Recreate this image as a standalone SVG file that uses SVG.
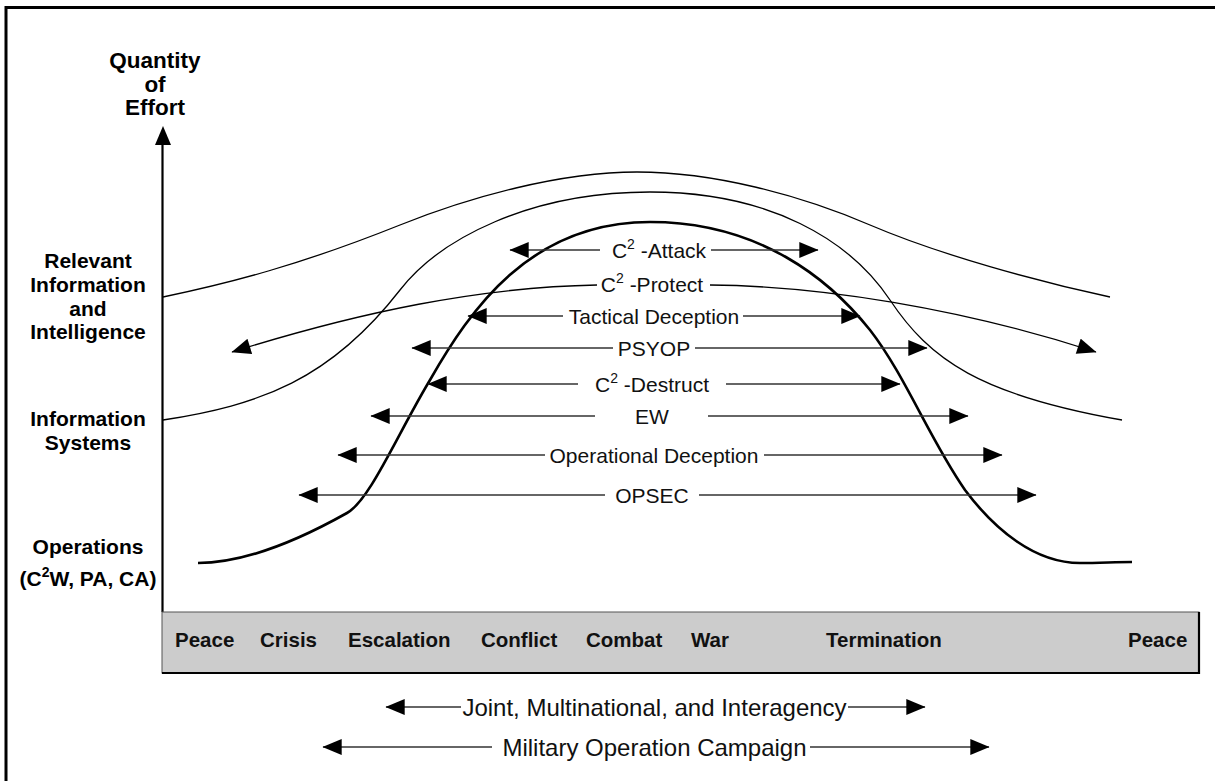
<svg xmlns="http://www.w3.org/2000/svg" width="1215" height="781" viewBox="0 0 1215 781">
<defs>
<marker id="ah" markerUnits="userSpaceOnUse" markerWidth="20" markerHeight="16" viewBox="0 0 18 15" refX="17.5" refY="7.5" orient="auto-start-reverse">
<path d="M0,0 L18,7.5 L0,15 Z" fill="#000"/>
</marker>
<style>
.lbl{font-family:"Liberation Sans",Arial,sans-serif;font-size:21px;font-weight:bold;fill:#000;text-anchor:middle}
.ax{font-size:22.5px}
.bar{font-family:"Liberation Sans",Arial,sans-serif;font-size:20.5px;font-weight:bold;fill:#111}
.arr{font-family:"Liberation Sans",Arial,sans-serif;font-size:21px;fill:#111;text-anchor:middle}
.big{font-family:"Liberation Sans",Arial,sans-serif;font-size:24px;fill:#111;text-anchor:middle}
.thin{fill:none;stroke:#000;stroke-width:1.3}
.bold{fill:none;stroke:#000;stroke-width:2.6}
.al{stroke:#333;stroke-width:1.7;fill:none}
</style>
</defs>
<rect width="1215" height="781" fill="#fff"/>
<rect id="frame" x="6" y="7.5" width="1300" height="900" fill="none" stroke="#000" stroke-width="3"/>

<g id="axis">
<line x1="162.5" y1="140" x2="162.5" y2="612" stroke="#000" stroke-width="2.2"/>
<path d="M163,126 L171,145 L155,145 Z" fill="#000"/>
<text class="lbl ax" x="155" y="68">Quantity</text>
<text class="lbl ax" x="155" y="91.5">of</text>
<text class="lbl ax" x="155" y="115">Effort</text>
</g>

<g id="label-relevant">
<text class="lbl" x="88" y="268">Relevant</text>
<text class="lbl" x="88" y="292">Information</text>
<text class="lbl" x="88" y="315.5">and</text>
<text class="lbl" x="88" y="339">Intelligence</text>
</g>
<g id="label-infosys">
<text class="lbl" x="88" y="426">Information</text>
<text class="lbl" x="88" y="450">Systems</text>
</g>
<g id="label-operations">
<text class="lbl" x="88" y="554">Operations</text>
<text class="lbl" x="88" y="586">(C<tspan font-size="14" dy="-9">2</tspan><tspan dy="9">W, PA, CA)</tspan></text>
</g>

<g id="timeline">
<rect x="162" y="612" width="1037" height="61" fill="#cccccc" stroke="#555" stroke-width="1"/>
<polyline points="162,673 1199,673 1199,612" fill="none" stroke="#000" stroke-width="2.2"/>
<text class="bar" x="175" y="647">Peace</text>
<text class="bar" x="260" y="647">Crisis</text>
<text class="bar" x="348" y="647">Escalation</text>
<text class="bar" x="481" y="647">Conflict</text>
<text class="bar" x="586" y="647">Combat</text>
<text class="bar" x="691" y="647">War</text>
<text class="bar" x="826" y="647">Termination</text>
<text class="bar" x="1128" y="647">Peace</text>
</g>

<g id="curves">
<path id="curve-relevant" class="thin" d="M163,297 C230,283 300,265 400,225 C470,197 560,172 637,172 C714,172 800,195 870,225 C940,255 1040,282 1110,297"/>
<path id="curve-infosys" class="thin" d="M163,420 C260,405 330,380 400,290 C440,238.6 530,192 650,192 C770,192 850,240 890,300 C930,360 980,395 1122,420"/>
<path id="curve-operations" class="bold" d="M198,563 C240,563 290,545 347,513 C370,500 397,435 430,380 C470,310 530,222 650,222 C760,222 830,280 870,330 C905,375 930,440 965,490 C995,530 1035,563 1080,563 C1100,563 1115,562 1132,562"/>
</g>

<g id="connectors">
<g id="c2-attack">
<line class="al" x1="600" y1="250" x2="510" y2="250" marker-end="url(#ah)"/>
<line class="al" x1="711" y1="250" x2="818" y2="250" marker-end="url(#ah)"/>
<text class="arr" x="659" y="257.5">C<tspan font-size="14" dy="-9">2</tspan><tspan dy="9"> -Attack</tspan></text>
</g>
<g id="c2-protect">
<path class="thin" d="M597,285 C480,287 360,312 232,352" marker-end="url(#ah)"/>
<path class="thin" d="M710,285 C820,286 960,308 1096,352" marker-end="url(#ah)"/>
<text class="arr" x="652" y="292">C<tspan font-size="14" dy="-9">2</tspan><tspan dy="9"> -Protect</tspan></text>
</g>
<g id="tactical-deception">
<line class="al" x1="563" y1="316" x2="468" y2="316" marker-end="url(#ah)"/>
<line class="al" x1="743" y1="316" x2="860" y2="316" marker-end="url(#ah)"/>
<text class="arr" x="654" y="323.5">Tactical Deception</text>
</g>
<g id="psyop">
<line class="al" x1="613" y1="348" x2="412" y2="348" marker-end="url(#ah)"/>
<line class="al" x1="695" y1="348" x2="927" y2="348" marker-end="url(#ah)"/>
<text class="arr" x="654" y="355.5">PSYOP</text>
</g>
<g id="c2-destruct">
<line class="al" x1="578" y1="384" x2="428" y2="384" marker-end="url(#ah)"/>
<line class="al" x1="726" y1="384" x2="900" y2="384" marker-end="url(#ah)"/>
<text class="arr" x="652" y="391.5">C<tspan font-size="14" dy="-9">2</tspan><tspan dy="9"> -Destruct</tspan></text>
</g>
<g id="ew">
<line class="al" x1="595" y1="416" x2="371" y2="416" marker-end="url(#ah)"/>
<line class="al" x1="708" y1="416" x2="968" y2="416" marker-end="url(#ah)"/>
<text class="arr" x="652" y="423.5">EW</text>
</g>
<g id="operational-deception">
<line class="al" x1="545" y1="455" x2="338" y2="455" marker-end="url(#ah)"/>
<line class="al" x1="764" y1="455" x2="1002" y2="455" marker-end="url(#ah)"/>
<text class="arr" x="654" y="462.5">Operational Deception</text>
</g>
<g id="opsec">
<line class="al" x1="605" y1="495" x2="299" y2="495" marker-end="url(#ah)"/>
<line class="al" x1="699" y1="495" x2="1036" y2="495" marker-end="url(#ah)"/>
<text class="arr" x="652" y="502.5">OPSEC</text>
</g>
<g id="joint">
<line class="al" x1="461" y1="707" x2="386" y2="707" marker-end="url(#ah)"/>
<line class="al" x1="848" y1="707" x2="925" y2="707" marker-end="url(#ah)"/>
<text class="big" x="654.5" y="715.5">Joint, Multinational, and Interagency</text>
</g>
<g id="military">
<line class="al" x1="492" y1="747" x2="323" y2="747" marker-end="url(#ah)"/>
<line class="al" x1="810" y1="747" x2="989" y2="747" marker-end="url(#ah)"/>
<text class="big" x="654.5" y="755.5">Military Operation Campaign</text>
</g>
</g>
</svg>
